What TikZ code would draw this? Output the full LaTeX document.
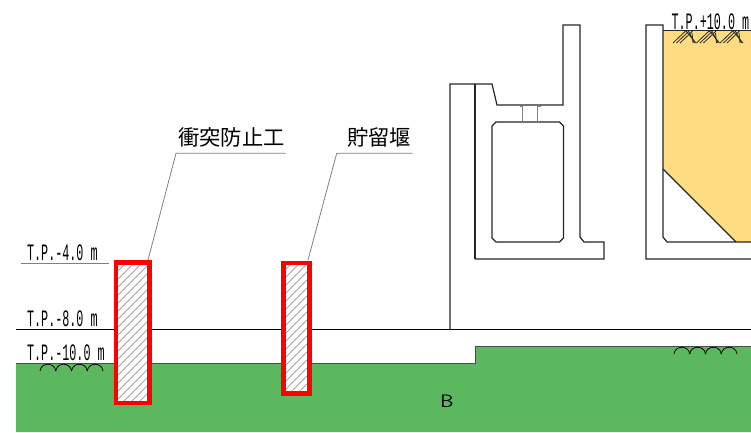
\documentclass[tikz,border=0pt]{standalone}
\usepackage{fontspec}
\newfontfamily\cjk{Noto Sans CJK JP}
\newfontfamily\cadfont{Liberation Mono}
\usepackage{tikz}

\definecolor{groundgreen}{HTML}{5CB85F}
\definecolor{fillyellow}{HTML}{FFDC82}
\definecolor{barrierred}{HTML}{FF0000}

\tikzset{
    wall/.style = {draw = black!85, line width = 1.2pt, line join = miter},
    thin gray/.style = {draw = black!50, line width = 0.8pt},
    hatch/.style = {draw = black!35, line width = 0.8pt},
    level/.style = {
        anchor = base west,
        inner sep = 0pt,
        xscale = 0.5,
        font = \fontsize{23.5}{23.5}\cadfont
    },
    name label/.style = {
        anchor = base west,
        inner sep = 0pt,
        font = \fontsize{21.3}{21.3}\cjk
    },
    barrier/.style = {draw = barrierred, line width = 4.8pt, line join = miter}
}

\begin{document}
\begin{tikzpicture}[%
        x = 1pt,
        y = -1pt,
        line cap = butt
    ]
        \useasboundingbox (0,0) rectangle (751,432);

        % Ground and backfill.
        \fill[groundgreen] (16,363) -- (475,363) -- (475,346) -- (751,346)
            -- (751,432) -- (16,432) -- cycle;
        \fill[fillyellow] (663,30.5) -- (751,30.5) -- (751,242) -- (736,242)
            -- (663,169) -- cycle;

        % Level lines.
        \draw[wall, draw = black!70, line width = 1pt] (16,363) -- (475,363) -- (475,346) -- (751,346);
        \draw[wall, draw = black] (16,329.3) -- (751,329.3);
        \draw[wall] (663,30.5) -- (751,30.5);
        \draw[thin gray] (21,263) -- (109,263);

        % Left wall.
        \draw[wall] (475,259) -- (475,84);
        \draw[wall] (450,329.3) -- (450,84) -- (492,84) -- (497,105) -- (563,105)
            -- (563,25) -- (580,25) -- (580,237) -- (584,242) -- (604,242)
            -- (604,259) -- (475,259);

        % Box under the bearing.
        \draw[wall] (496,122) -- (559.5,122) -- (563.5,126) -- (563.5,238)
            -- (559.5,242) -- (496,242) -- (492,238) -- (492,126) -- cycle;

        % Bearing.
        \draw[thin gray] (519.5,106.5) -- (522.5,106.5) -- (522.5,122);
        \draw[thin gray] (540.5,106.5) -- (537.5,106.5) -- (537.5,122);

        % Right wall.
        \draw[wall] (751,259) -- (646,259) -- (646,25) -- (663,25) -- (663,237)
            -- (667,242) -- (751,242);
        \draw[wall] (663,169) -- (736,242);

        % Barriers.
        \foreach \xa/\ya/\xb/\yb in {116/262.5/149.5/403, 283.5/263/309.5/393.5} {
            \fill[white] (\xa,\ya) rectangle (\xb,\yb);
            \begin{scope}
                \clip (\xa,\ya) rectangle (\xb,\yb);
                \foreach \k in {-8,...,20} {
                    \draw[hatch] (\xa-10,\yb-\k*8) -- (\xb+10,\yb-\k*8-\xb+\xa-20);
                }
            \end{scope}
            \draw[barrier] (\xa,\ya) rectangle (\xb,\yb);
        }

        % Soft ground marks.
        \foreach \x in {40,55.75,71.5,87.25} {
            \draw[black, line width = 0.8pt] (\x,371) .. controls (\x+1,362) and (\x+14.75,362) .. (\x+15.75,371);
        }
        \foreach \x in {674,689.75,705.5,721.25} {
            \draw[black, line width = 0.8pt] (\x,354) .. controls (\x+1,345) and (\x+14.75,345) .. (\x+15.75,354);
        }

        % Soil marks.
        \foreach \x in {673,696.5,720} {
            \foreach \i in {0,1,2} {
                \draw[black!85, line width = 0.8pt] (\x+\i*3.5,43) -- (\x+\i*3.5+12.5,31);
                \draw[black!85, line width = 0.8pt] (\x+13+\i*3,31+\i*1) -- (\x+23-\i*1.5,43);
            }
        }

        % Level labels.
        \node[level] (level a) at (27,260) {T.P.-4.0 m};
        \node[level] (level b) at (27,326.7) {T.P.-8.0 m};
        \node[level] (level c) at (27,360) {T.P.-10.0 m};
        \node[level] (level d) at (671.5,29) {T.P.+10.0 m};

        % Leaders and names.
        \node[name label] (barrier name) at (178,145.5) {衝突防止工};
        \node[name label] (weir name) at (347,145.5) {貯留堰};
        \coordinate (barrier foot) at (148,260);
        \coordinate (barrier knee) at (176,153.3);
        \coordinate (barrier end) at (286,153.3);
        \coordinate (weir foot) at (308,260);
        \coordinate (weir knee) at (336.7,153.3);
        \coordinate (weir end) at (412.7,153.3);
        \draw[thin gray] (barrier foot) -- (barrier knee) -- (barrier end);
        \draw[thin gray] (weir foot) -- (weir knee) -- (weir end);

        \node[anchor = base west, inner sep = 0pt, xscale = 1.2, font = \fontsize{18}{18}\sffamily] (zone b) at (440,407) {B};
    \end{tikzpicture}
\end{document}
